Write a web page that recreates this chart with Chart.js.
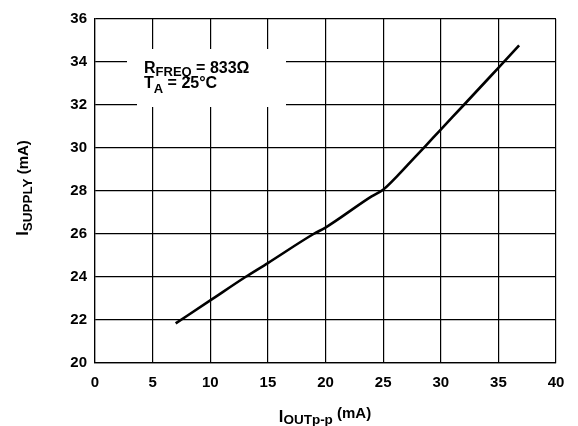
<!DOCTYPE html>
<html>
<head>
<meta charset="utf-8">
<script src="https://cdn.jsdelivr.net/npm/chart.js@4/dist/chart.umd.min.js"></script>
<style>
  body { margin: 0; background: #fff; }
</style>
</head>
<body>
<canvas id="chart" width="578" height="426"></canvas>
<script>
// I_OUTp-p (mA) vs I_SUPPLY (mA)
const outCurrent = [7.0, 10, 13.05, 15, 18.96, 20, 24.0, 25, 26.2, 27.6, 28.65, 30, 32, 35, 36.8];
const supplyCurrent = [21.84, 22.91, 24.0, 24.65, 26.0, 26.3, 27.75, 28.06, 28.68, 29.48, 30.08, 30.86, 32.0, 33.73, 34.77];

const xTicks = [0, 5, 10, 15, 20, 25, 30, 35, 40];
const yTicks = [20, 22, 24, 26, 28, 30, 32, 34, 36];

const FONT = '"Liberation Sans", Arial, sans-serif';

// draws text pieces one after another, some of them as subscripts
function drawParts(ctx, parts, x, y, align) {
  let total = 0;
  parts.forEach((p) => {
    ctx.font = `bold ${p.size}px ${FONT}`;
    total += ctx.measureText(p.t).width;
  });
  let cx = align === "center" ? x - total / 2 : x;
  ctx.textAlign = "left";
  ctx.textBaseline = "alphabetic";
  parts.forEach((p) => {
    ctx.font = `bold ${p.size}px ${FONT}`;
    ctx.fillText(p.t, cx, y + (p.dy || 0));
    cx += ctx.measureText(p.t).width;
  });
}

const labelsPlugin = {
  id: "labels",
  beforeDatasetsDraw(chart) {
    const ctx = chart.ctx;
    ctx.save();

    // white patch behind the conditions note
    ctx.fillStyle = "#fff";
    ctx.fillRect(127, 49, 159, 52);
    ctx.fillRect(137, 100, 149, 7);

    ctx.fillStyle = "#000";
    drawParts(ctx, [
      { t: "R", size: 16 },
      { t: "FREQ", size: 13, dy: 3 },
      { t: " = 833\u03A9", size: 16 },
    ], 144, 72.5);
    drawParts(ctx, [
      { t: "T", size: 16 },
      { t: "A", size: 13, dy: 4.5 },
      { t: " = 25\u00B0C", size: 16 },
    ], 144, 88);
    ctx.restore();
  },
  afterDraw(chart) {
    const ctx = chart.ctx;
    ctx.save();
    ctx.fillStyle = "#000";

    // x axis title
    drawParts(ctx, [
      { t: "I", size: 16.5 },
      { t: "OUTp-p", size: 13.5, dy: 2.5 },
      { t: " (mA)", size: 15, dy: -3.5 },
    ], 325, 421.5, "center");

    // y axis title
    ctx.translate(28, 188);
    ctx.rotate(-Math.PI / 2);
    drawParts(ctx, [
      { t: "I", size: 16.5 },
      { t: "SUPPLY", size: 13.5, dy: 3.5 },
      { t: " (mA)", size: 15 },
    ], 0, 0, "center");
    ctx.restore();
  },
};

const ctx = document.getElementById("chart").getContext("2d");

new Chart(ctx, {
  type: "scatter",
  data: {
    datasets: [
      {
        data: outCurrent.map((x, i) => ({ x, y: supplyCurrent[i] })),
        showLine: true,
        borderColor: "#000",
        borderWidth: 2.6,
        pointRadius: 0,
        cubicInterpolationMode: "monotone",
      },
    ],
  },
  plugins: [labelsPlugin],
  options: {
    responsive: false,
    animation: false,
    layout: {
      padding: { left: 0, top: 19, right: 22, bottom: 0 },
    },
    plugins: {
      legend: { display: false },
      tooltip: { enabled: false },
    },
    scales: {
      x: {
        type: "linear",
        min: xTicks[0],
        max: xTicks[xTicks.length - 1],
        afterBuildTicks: (scale) => {
          scale.ticks = xTicks.map((v) => ({ value: v }));
        },
        afterFit: (scale) => {
          scale.height = 63;
        },
        grid: { color: "#000", lineWidth: 1.2, drawTicks: false },
        border: { color: "#000", width: 1.2 },
        ticks: {
          color: "#000",
          padding: 11,
          maxRotation: 0,
          font: { family: FONT, size: 15, weight: "bold" },
        },
      },
      y: {
        min: yTicks[0],
        max: yTicks[yTicks.length - 1],
        afterBuildTicks: (scale) => {
          scale.ticks = yTicks.map((v) => ({ value: v }));
        },
        afterFit: (scale) => {
          scale.width = 95;
        },
        grid: { color: "#000", lineWidth: 1.2, drawTicks: false },
        border: { color: "#000", width: 1.2 },
        ticks: {
          color: "#000",
          padding: 8,
          font: { family: FONT, size: 15, weight: "bold" },
        },
      },
    },
  },
});
</script>
</body>
</html>
